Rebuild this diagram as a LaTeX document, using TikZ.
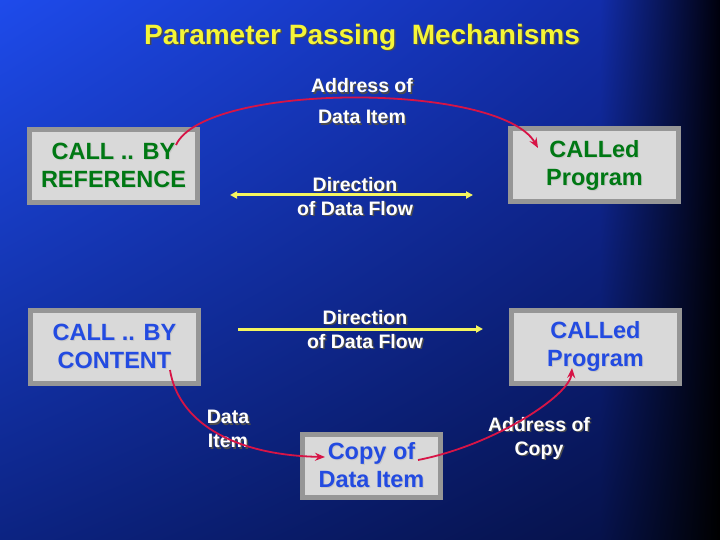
\documentclass[tikz,border=0pt]{standalone}
\usepackage{fontspec}
\setmainfont{Liberation Sans}
\usetikzlibrary{arrows.meta, positioning, calc, shadings}
\definecolor{bgtl}{RGB}{30,75,235}
\definecolor{bgtm}{RGB}{18,45,170}
\definecolor{bgtr}{RGB}{0,0,12}
\definecolor{bgbl}{RGB}{12,35,130}
\definecolor{bgbm}{RGB}{6,18,75}
\definecolor{titleyellow}{RGB}{245,245,55}
\definecolor{flowyellow}{RGB}{245,245,95}
\definecolor{linkred}{RGB}{215,20,70}
\definecolor{boxgrey}{RGB}{217,217,217}
\definecolor{boxedge}{RGB}{150,150,150}
\definecolor{refgreen}{RGB}{0,120,20}
\definecolor{valblue}{RGB}{35,75,225}
% text with a small drop shadow
\newcommand{\shd}[1]{\makebox[0pt][l]{\hspace{1.5pt}\raisebox{-1.5pt}{\color{black!70}#1}}#1}
\newcommand{\shdlight}[1]{\makebox[0pt][l]{\hspace{1pt}\raisebox{-1pt}{\color{black!22}#1}}#1}

\begin{document}
\begin{tikzpicture}[
    x=1pt, y=-1pt,
    prog/.style={draw=boxedge, fill=boxgrey, line width=5pt, minimum width=168pt, minimum height=73pt, inner sep=0pt, align=center, font=\fontsize{23.5}{28}\selectfont\bfseries},
    byref/.style={prog, text=refgreen},
    byval/.style={prog, text=valblue},
    note/.style={text=white, align=center, inner sep=0pt, font=\fontsize{19.5}{24}\selectfont\bfseries},
    flow/.style={flowyellow, line width=3pt, -{Triangle[length=7pt, width=7pt]}},
    link/.style={linkred, line width=1.8pt, -{Stealth[length=10pt, width=8pt]}},
]

% Background
\useasboundingbox (0,0) rectangle (720,540);
\shade[upper left=bgtl, upper right=bgtm, lower left=bgbl, lower right=bgbm] (0,0) rectangle (600,540);
\shade[upper left=bgtm, upper right=bgtr, lower left=bgbm, lower right=black] (600,0) rectangle (720,540);

% Title
\node[text=titleyellow, font=\fontsize{28}{34}\selectfont\bfseries] (title) at (362,38) {\shd{Parameter Passing\ \ Mechanisms}};

% Call by reference
\node[byref] (refcaller) at (113.5,166) {\shdlight{CALL .. BY}\\\shdlight{REFERENCE}};
\node[byref] (refcallee) at (594.5,165.5) {\shdlight{CALLed}\\\shdlight{Program}};

% Call by content
\node[byval] (valcaller) at (114.5,347) {\shdlight{CALL .. BY}\\\shdlight{CONTENT}};
\node[byval] (valcallee) at (595.5,347) {\shdlight{CALLed}\\\shdlight{Program}};
\node[byval, minimum width=138pt, minimum height=63pt] (copy) at (371.5,466) {\shdlight{Copy of}\\\shdlight{Data Item}};

% Labels
\node[note, font=\fontsize{19.5}{31}\selectfont\bfseries] (addr) at (362,102) {\shd{Address of}\\\shd{Data Item}};
\node[note] (flowtop) at (355,197) {\shd{Direction}\\\shd{of Data Flow}};
\node[note] (flowbot) at (365,330) {\shd{Direction}\\\shd{of Data Flow}};
\node[note] (item) at (228,430) {\shd{Data}\\\shd{Item}};
\node[note] (addrcopy) at (539,439) {\shd{Address of}\\\shd{Copy}};

% Data flow
\coordinate (flowtopL) at (230,195);
\coordinate (flowtopR) at (473,195);
\coordinate (flowbotL) at (238,329);
\coordinate (flowbotR) at (483,329);
\draw[flow, {Triangle[length=7pt, width=7pt]}-{Triangle[length=7pt, width=7pt]}] (flowtopL) -- (flowtopR);
\draw[flow] (flowbotL) -- (flowbotR);

% Links
\draw[link] ([shift={(62.5,-21)}]refcaller.center) .. controls (205,82) and (500,82) .. ([shift={(-56.5,-17.5)}]refcallee.center);
\draw[link] ([shift={(55.5,23)}]valcaller.center) .. controls (178,420) and (230,455) .. ([shift={(-46.5,-9)}]copy.center);
\draw[link] ([shift={(46.5,-6)}]copy.center) .. controls (495,445) and (570,395) .. ([shift={(-23.5,21)}]valcallee.center);

\end{tikzpicture}
\end{document}
